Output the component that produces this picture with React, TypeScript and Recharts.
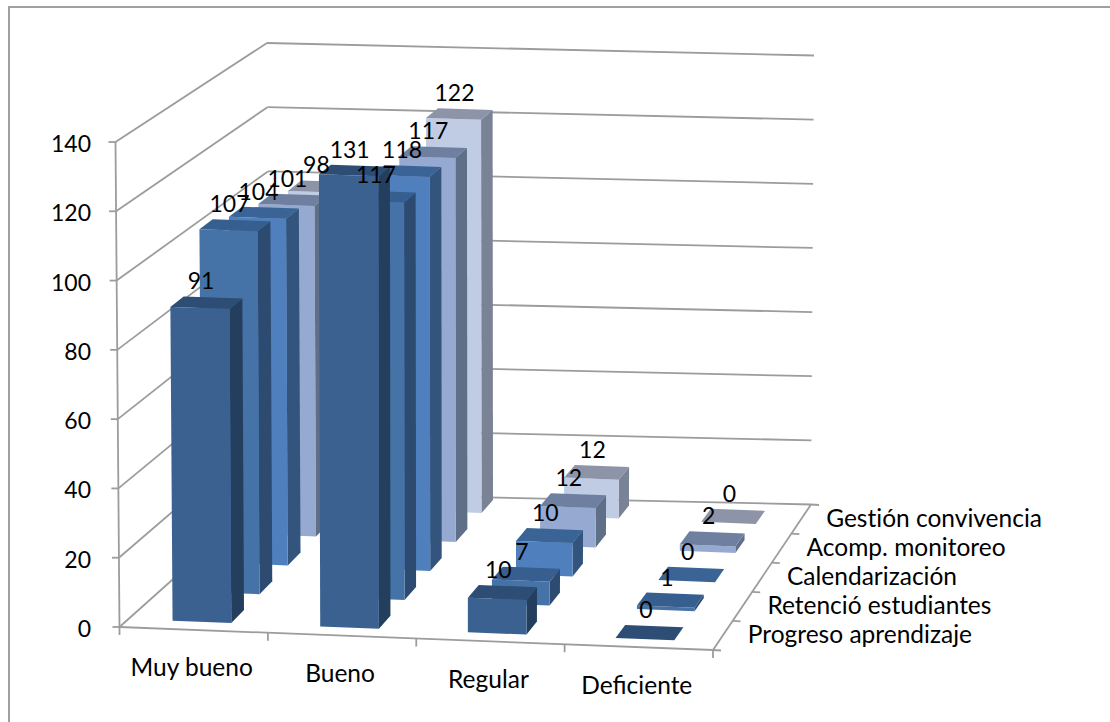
import { BarChart, Bar, XAxis, YAxis, CartesianGrid, LabelList } from "recharts";

const categories = ["Muy bueno", "Bueno", "Regular", "Deficiente"];
const seriesNames = [
  "Progreso aprendizaje",
  "Retenció estudiantes",
  "Calendarización",
  "Acomp. monitoreo",
  "Gestión convivencia",
];
const progreso = [91, 131, 10, 0];
const retencion = [107, 117, 7, 1];
const calendarizacion = [104, 118, 10, 0];
const acompanamiento = [101, 117, 12, 2];
const gestion = [98, 122, 12, 0];
const yTicks = [0, 20, 40, 60, 80, 100, 120, 140];

const seriesValues = [progreso, retencion, calendarizacion, acompanamiento, gestion];
const data = categories.map((name, i) => {
  const row: Record<string, string | number> = { name };
  seriesNames.forEach((s, j) => (row[s] = seriesValues[j][i]));
  return row;
});

const colors = [
  { front: "#3a6190", side: "#243f5e", top: "#2d4d74" },
  { front: "#4573a8", side: "#2d4a70", top: "#365e8f" },
  { front: "#4f80bd", side: "#32547d", top: "#3a6496" },
  { front: "#95a9d1", side: "#5f6f87", top: "#6f7f9f" },
  { front: "#bfcce4", side: "#7a8296", top: "#8e94a8" },
];

const W = 1110;
const H = 722;
const LEFT = 119.5;
const RIGHT = 713;
const TOP = 142;
const BOTTOM = 627;
const BAR = 59;
const FONT = "Lato, Carlito, sans-serif";
const TEXT_SIZE = 24.5;
const DIGIT_SIZE = 23;
const LINE = "#9c9c9c";

// corners of the 3d box, [x, y]
const floor = { fl: [119.5, 627], fr: [713, 650], bl: [270, 492.5], br: [811, 504.5] };
const roof = { fl: [115.5, 142], fr: [717, 163], bl: [267, 43], br: [814, 55.5] };
// bars sit on a slightly deeper floor than the wall lines suggest
const barFloor = { ...floor, bl: [270, 483] };
const barRoof = { ...roof, bl: [267, 40] };

function corner(c: typeof floor, u: number, w: number, k: number) {
  const front = c.fl[k] + (c.fr[k] - c.fl[k]) * u;
  const back = c.bl[k] + (c.br[k] - c.bl[k]) * u;
  return front + (back - front) * w;
}

// u across, w into the depth, h up, all 0..1
function project(u: number, w: number, h: number, lo = floor, hi = roof) {
  return {
    x: corner(lo, u, w, 0) + (corner(hi, u, w, 0) - corner(lo, u, w, 0)) * h,
    y: corner(lo, u, w, 1) + (corner(hi, u, w, 1) - corner(lo, u, w, 1)) * h,
  };
}

const barPoint = (u: number, w: number, h: number) => project(u, w, h, barFloor, barRoof);
const toU = (x: number) => (x - LEFT) / (RIGHT - LEFT);
const toH = (y: number) => (BOTTOM - y) / (BOTTOM - TOP);
const pts = (list: { x: number; y: number }[]) => list.map((p) => `${p.x},${p.y}`).join(" ");

function depthRange(s: number) {
  const mid = (s + 0.5) / seriesNames.length;
  return [mid - 0.045, mid + 0.045];
}

function Box3d(props: any, s: number) {
  const { x, width, height } = props;
  const [w0, w1] = depthRange(s);
  const u0 = toU(x);
  const u1 = toU(x + width);
  const h = height / (BOTTOM - TOP);
  const c = colors[s];
  return (
    <g key={`${s}-${props.index}`}>
      <polygon
        fill={c.side}
        points={pts([barPoint(u1, w0, 0), barPoint(u1, w1, 0), barPoint(u1, w1, h), barPoint(u1, w0, h)])}
      />
      <polygon
        fill={c.front}
        points={pts([barPoint(u0, w0, 0), barPoint(u1, w0, 0), barPoint(u1, w0, h), barPoint(u0, w0, h)])}
      />
      <polygon
        fill={c.top}
        points={pts([barPoint(u0, w0, h), barPoint(u1, w0, h), barPoint(u1, w1, h), barPoint(u0, w1, h)])}
      />
    </g>
  );
}

function BarLabel(props: any, s: number) {
  const { x, width, height, value } = props;
  const [w0, w1] = depthRange(s);
  const mid = toU(x + width / 2);
  const h = height / (BOTTOM - TOP);
  return (
    <text
      x={barPoint(mid, w0, h).x + 1}
      y={barPoint(mid, w1, h).y - 17}
      textAnchor="middle"
      dominantBaseline="central"
      fontFamily={FONT}
      fontSize={DIGIT_SIZE}
      fill="#000"
    >
      {value}
    </text>
  );
}

function Seg({ a, b }: { a: { x: number; y: number }; b: { x: number; y: number } }) {
  return <line x1={a.x} y1={a.y} x2={b.x} y2={b.y} stroke={LINE} strokeWidth={1.8} />;
}

function FloorFrame() {
  const fr = project(1, 0, 0);
  const br = project(1, 1, 0);
  return (
    <g>
      <Seg a={project(0, 0, 0)} b={fr} />
      <Seg a={fr} b={br} />
      <Seg a={br} b={{ x: br.x + 8, y: br.y + 0.5 }} />
      {categories.concat("").map((_, i) => {
        const p = project(i / categories.length, 0, 0);
        return <Seg key={i} a={p} b={{ x: p.x, y: p.y + 8 }} />;
      })}
      {seriesNames.map((name, i) => {
        const n = seriesNames.length;
        const t = project(1, i / n, 0);
        const c = project(1, (i + 0.5) / n, 0);
        return (
          <g key={name}>
            <Seg a={t} b={{ x: t.x + 8, y: t.y + 0.5 }} />
            <text
              x={c.x + 25}
              y={c.y - 2}
              dominantBaseline="central"
              fontFamily={FONT}
              fontSize={TEXT_SIZE}
              fill="#000"
              style={{ fontVariantLigatures: "none" }}
            >
              {name}
            </text>
          </g>
        );
      })}
    </g>
  );
}

// one level of the walls: axis tick, left wall, back wall
function WallLine(props: any) {
  const h = toH(props.y1);
  const a = project(0, 0, h);
  const b = project(0, 1, h);
  const c = project(1, 1, h);
  return (
    <g key={props.key}>
      <Seg a={{ x: a.x - 7, y: a.y }} b={a} />
      <Seg a={a} b={b} />
      {h > 0.01 && <Seg a={b} b={c} />}
      {h < 0.01 && <Seg a={project(0.38, 1, 0)} b={c} />}
      {h > 0.99 && <Seg a={a} b={project(0, 0, 0)} />}
      {h < 0.01 && <FloorFrame />}
    </g>
  );
}

function XTick(props: any) {
  const { x, payload } = props;
  const y = project(toU(x), 0, 0).y + 37;
  return (
    <text x={x - 2} y={y} textAnchor="middle" dominantBaseline="central" fontFamily={FONT} fontSize={TEXT_SIZE} fill="#000">
      {payload.value}
    </text>
  );
}

function YTick(props: any) {
  const { y, payload } = props;
  return (
    <text x={91} y={y + 1} textAnchor="end" dominantBaseline="central" fontFamily={FONT} fontSize={DIGIT_SIZE} fill="#000">
      {payload.value}
    </text>
  );
}

export default function App() {
  const order = seriesNames.map((_, i) => seriesNames.length - 1 - i);
  return (
    <div style={{ position: "absolute", left: 0, top: 0, width: W, height: H, overflow: "hidden", background: "#fff" }}>
      <div
        style={{
          position: "absolute",
          left: 8,
          top: 6,
          width: W,
          height: H,
          borderLeft: "2px solid #a0a0a0",
          borderTop: "2px solid #a0a0a0",
        }}
      />
      <div style={{ position: "absolute", left: 0, top: 0 }}>
        <BarChart
          width={W}
          height={H}
          data={data}
          barSize={BAR}
          barGap={-BAR}
          margin={{ left: LEFT - 60, right: W - RIGHT, top: TOP, bottom: H - BOTTOM - 40 }}
        >
          <CartesianGrid horizontal={WallLine} vertical={false} horizontalValues={yTicks} />
          <XAxis dataKey="name" height={40} interval={0} axisLine={false} tickLine={false} tick={XTick} />
          <YAxis width={60} domain={[0, 140]} ticks={yTicks} axisLine={false} tickLine={false} tick={YTick} />
          {order.map((s) => (
            <Bar
              key={seriesNames[s]}
              dataKey={seriesNames[s]}
              isAnimationActive={false}
              shape={(p: any) => Box3d(p, s)}
            >
              <LabelList dataKey={seriesNames[s]} content={(p: any) => BarLabel(p, s)} />
            </Bar>
          ))}
        </BarChart>
      </div>
    </div>
  );
}
